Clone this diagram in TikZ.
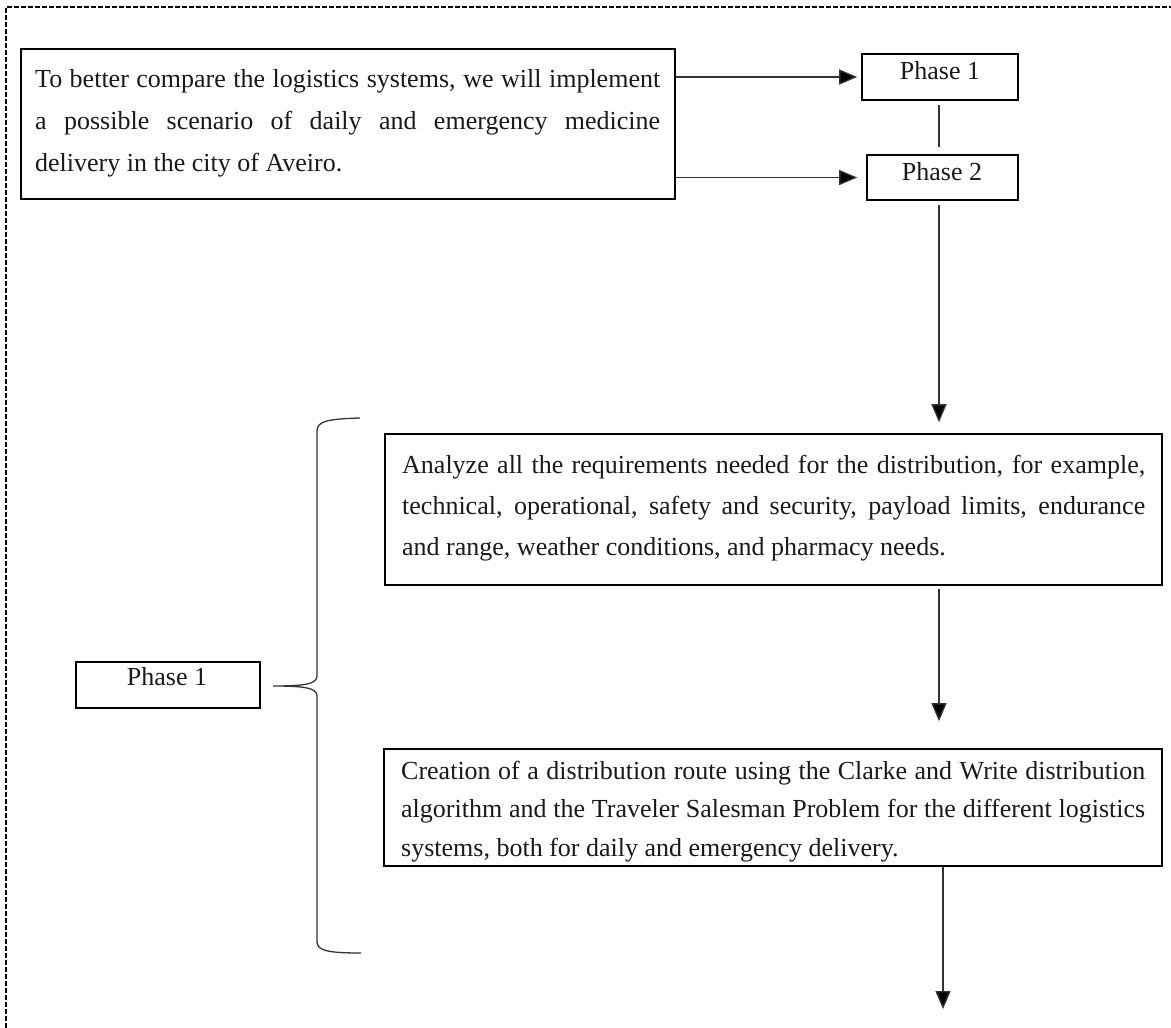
\documentclass[tikz,border=0pt]{standalone}
\usepackage{fontspec}
\setmainfont{Liberation Serif}
\usetikzlibrary{arrows.meta}
\begin{document}
\begin{tikzpicture}[x=1pt,y=-1pt,
  box/.style={draw=black,line width=1.6pt,inner sep=0pt},
  txt/.style={inner sep=0pt,anchor=base west,text=black!90},
  lbl/.style={inner sep=0pt,anchor=base,text=black!90,font=\fontsize{26}{30}\selectfont},
  link/.style={draw=black!80,line width=1.3pt},
  arr/.style={link,-{Triangle[length=18pt,width=15pt,fill=black]}},
  frame/.style={draw=black,line width=1.3pt,dash pattern=on 5pt off 2pt}]
\useasboundingbox (0,0) rectangle (1171,1028);

% outer dashed frame
\draw[frame] (6,1028) -- (6,7) -- (1171,7);

% boxes
\node[box,minimum width=654pt,minimum height=150pt] (intro) at (348,124) {};
\node[box,minimum width=156pt,minimum height=46pt] (p1) at (940,77) {};
\node[box,minimum width=151pt,minimum height=45pt] (p2) at (942.5,177.5) {};
\node[box,minimum width=777pt,minimum height=151pt] (ana) at (773.5,509.5) {};
\node[box,minimum width=778pt,minimum height=117pt] (cre) at (773,807.5) {};
\node[box,minimum width=184pt,minimum height=46pt] (ph) at (168,685) {};

% box texts
\node[txt,font=\fontsize{26}{42}\selectfont] (introtext) at (35,87) {\parbox[t]{625pt}{%
\makebox[625pt][s]{To better compare the logistics systems, we will implement}\\
\makebox[625pt][s]{a possible scenario of daily and emergency medicine}\\
delivery in the city of Aveiro.}};
\node[lbl] (p1text) at (940,79) {Phase 1};
\node[lbl] (p2text) at (942,180) {Phase 2};
\node[lbl] (phtext) at (167,685) {Phase 1};
\node[txt,font=\fontsize{26}{41}\selectfont] (anatext) at (402,473) {\parbox[t]{743pt}{%
\makebox[743pt][s]{Analyze all the requirements needed for the distribution, for example,}\\
\makebox[743pt][s]{technical, operational, safety and security, payload limits, endurance}\\
and range, weather conditions, and pharmacy needs.}};
\node[txt,font=\fontsize{26}{38.5}\selectfont] (cretext) at (401,779) {\parbox[t]{744pt}{%
\makebox[744pt][s]{Creation of a distribution route using the Clarke and Write distribution}\\
\makebox[744pt][s]{algorithm and the Traveler Salesman Problem for the different logistics}\\
systems, both for daily and emergency delivery.}};

% connectors
\coordinate (col) at (939,0);
\coordinate (tail) at (943,1009);
\draw[arr,shorten >=4pt] (intro.east |- p1.west) -- (p1.west);
\draw[arr,shorten >=9pt] (intro.east |- p2.west) -- (p2.west);
\draw[link,shorten <=4pt,shorten >=7pt] (col |- p1.south) -- (col |- p2.north);
\draw[arr,shorten <=4pt,shorten >=11pt] (col |- p2.south) -- (col |- ana.north);
\draw[arr,shorten <=3pt,shorten >=27pt] (col |- ana.south) -- (col |- cre.north);
\draw[arr] (cre.south -| tail) -- (tail);

% curly brace grouping the first phase
\draw[link] (360,418) .. controls (328,419) and (317,421) .. (317,431)
  -- (317,676) .. controls (317,684) and (305,686) .. (273,686)
  .. controls (305,686) and (317,688) .. (317,696)
  -- (317,942) .. controls (317,951) and (330,953) .. (361,953);
\end{tikzpicture}
\end{document}
